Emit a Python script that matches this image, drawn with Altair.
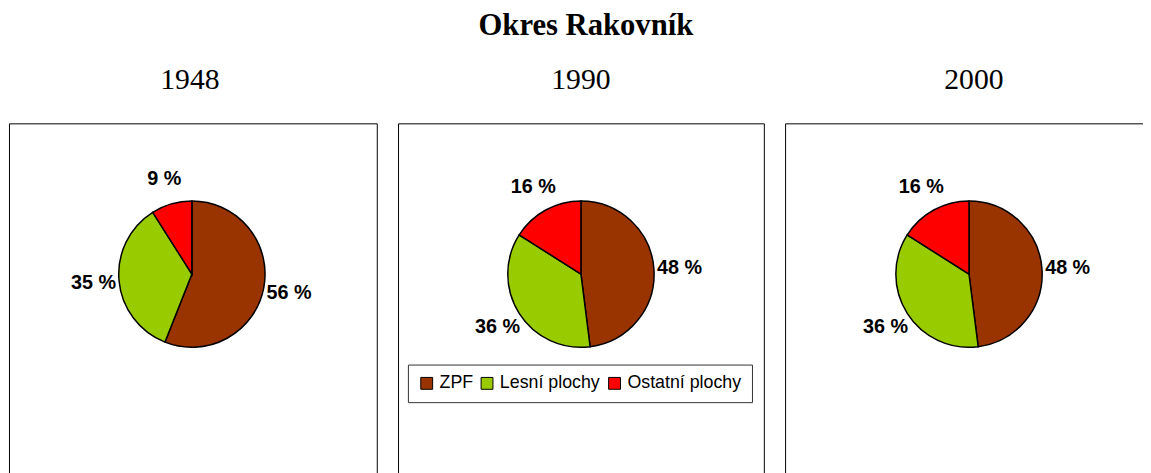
import altair as alt
import pandas as pd

title_text = "Okres Rakovník"
years = ["1948", "1990", "2000"]
categories = ["ZPF", "Lesní plochy", "Ostatní plochy"]
values_1948 = [56, 35, 9]
values_1990 = [48, 36, 16]
values_2000 = [48, 36, 16]
colors = ["#993300", "#99CC00", "#FF0000"]

series = {"1948": values_1948, "1990": values_1990, "2000": values_2000}
rows = []
for y in years:
    for i, (c, v) in enumerate(zip(categories, series[y])):
        rows.append({"rok": y, "kategorie": c, "podil": v, "poradi": i, "popisek": f"{v} %"})
df = pd.DataFrame(rows)

widths = [372, 370, 372]
title_dx = [-3, 0, 5]
pie_cx = [185, 185, 186]
H = 360
CY = 152.5


def panel(k, show_legend):
    year = years[k]
    w = widths[k]
    base = alt.Chart(df).transform_filter(alt.datum.rok == year)
    if show_legend:
        legend = alt.Legend(
            orient="none", legendX=10, legendY=244, direction="horizontal",
            title=None, symbolType="square", symbolSize=144,
            symbolStrokeColor="black", symbolStrokeWidth=1, symbolOpacity=1,
            labelFont="Liberation Sans", labelFontSize=18, labelColor="black",
            labelOffset=4, columnPadding=5, padding=10,
            strokeColor="#333333", fillColor="white",
        )
    else:
        legend = None
    color = alt.Color(
        "kategorie:N",
        scale=alt.Scale(domain=categories, range=colors),
        sort=categories,
        legend=legend,
    )
    arc = base.mark_arc(outerRadius=74, stroke="black", strokeWidth=1.5).encode(
        theta=alt.Theta("podil:Q", stack=True),
        color=color,
        order=alt.Order("poradi:Q"),
        x=alt.value(pie_cx[k]),
        y=alt.value(CY),
    )
    text = base.mark_text(
        radius=100, font="Liberation Sans", fontSize=20, fontWeight="bold", color="black"
    ).encode(
        theta=alt.Theta("podil:Q", stack=True),
        detail="kategorie:N",
        order=alt.Order("poradi:Q"),
        text="popisek:N",
        x=alt.value(pie_cx[k]),
        y=alt.value(CY),
    )
    return alt.layer(arc, text).properties(
        width=w,
        height=H,
        title=alt.TitleParams(
            year, font="Liberation Serif", fontSize=30, fontWeight="normal",
            baseline="alphabetic", offset=4.5, anchor="middle", color="black",
            dx=title_dx[k],
        ),
    )


chart = (
    alt.hconcat(
        panel(0, False),
        panel(1, True),
        panel(2, False),
        spacing=19.5,
    )
    .resolve_legend(color="independent")
    .properties(
        title=alt.TitleParams(
            title_text, font="Liberation Serif", fontSize=31, fontWeight="bold",
            anchor="middle", offset=23, color="black", dx=5,
        ),
        padding={"top": 0, "left": 0, "right": -11, "bottom": -10},
    )
    .configure_view(stroke="black", strokeWidth=1)
)

chart.save("out.html", embed_options={"renderer": "svg", "actions": False})
